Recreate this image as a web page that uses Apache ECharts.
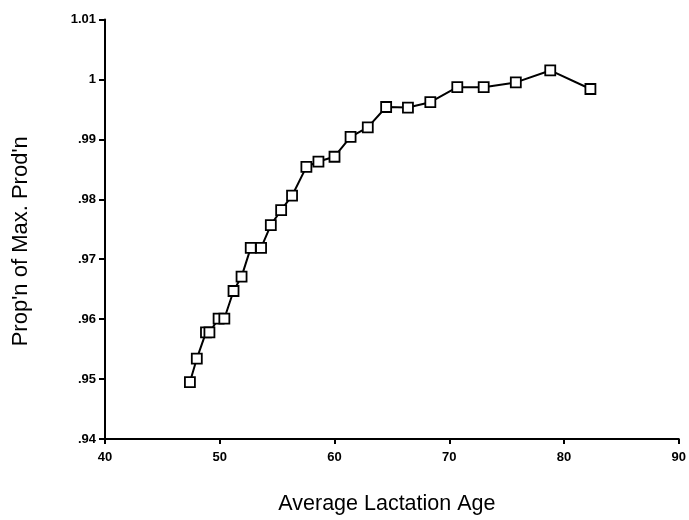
<!DOCTYPE html>
<html>
<head>
<meta charset="utf-8">
<script src="https://cdn.jsdelivr.net/npm/echarts@6/dist/echarts.min.js"></script>
<style>
    html, body { margin: 0; padding: 0; background: #fff; }
    #chart { width: 689px; height: 520px; }
</style>
</head>
<body>
<div id="chart"></div>
<script>
// average lactation age (x) and proportion of max production (y)
var ageValues = [47.4, 48.0, 48.8, 49.1, 49.9, 50.4, 51.2, 51.9, 52.7, 53.6,
    54.45, 55.35, 56.3, 57.55, 58.6, 60.0, 61.4, 62.9, 64.5, 66.4,
    68.35, 70.7, 73.0, 75.8, 78.8, 82.3];
var propValues = [.9495, .9534, .9578, .9578, .9601, .9601, .9647, .9671, .9719, .9719,
    .9757, .9782, .9806, .9854, .9863, .9871, .9904, .9920, .9954, .9953,
    .9962, .9987, .9987, .9995, 1.0015, .9984];

var xTicks = { min: 40, max: 90, step: 10 };
var yTicks = { min: 0.94, max: 1.01, step: 0.01 };

var points = [];
for (var i = 0; i < ageValues.length; i++) {
    points.push([ageValues[i], propValues[i]]);
}

var chart = echarts.init(document.getElementById('chart'));

var axisFont = {
    color: '#000',
    fontFamily: 'Liberation Sans, Arial, sans-serif',
    fontWeight: 'bold',
    fontSize: 13
};

chart.setOption({
    backgroundColor: '#fff',
    animation: false,
    grid: {
        left: 105,
        right: 7,
        top: 19.5,
        bottom: 78.5
    },
    xAxis: {
        type: 'value',
        min: xTicks.min,
        max: xTicks.max,
        interval: xTicks.step,
        name: 'Average Lactation Age',
        nameLocation: 'middle',
        nameGap: 54,
        nameTextStyle: {
            color: '#000',
            fontFamily: 'Liberation Sans, Arial, sans-serif',
            fontSize: 21.5,
            padding: [0, 10, 0, 0]
        },
        axisLine: { show: true, lineStyle: { color: '#000', width: 2 } },
        axisTick: { show: true, length: 5, lineStyle: { color: '#000', width: 2 } },
        axisLabel: Object.assign({ margin: 12 }, axisFont),
        splitLine: { show: false }
    },
    yAxis: {
        type: 'value',
        min: yTicks.min,
        max: yTicks.max,
        interval: yTicks.step,
        name: "Prop'n of Max. Prod'n",
        nameLocation: 'middle',
        nameGap: 73,
        nameTextStyle: {
            color: '#000',
            fontFamily: 'Liberation Sans, Arial, sans-serif',
            fontSize: 22,
            padding: [0, 24, 0, 0]
        },
        axisLine: { show: true, lineStyle: { color: '#000', width: 2 } },
        axisTick: { show: true, length: 6, lineStyle: { color: '#000', width: 2 } },
        axisLabel: Object.assign({
            margin: 9,
            formatter: function (v) {
                var s = String(Math.round(v * 100) / 100);
                return s.replace(/^0\./, '.');
            }
        }, axisFont),
        splitLine: { show: false }
    },
    series: [{
        type: 'line',
        data: points,
        symbol: 'rect',
        symbolSize: 10,
        lineStyle: { color: '#000', width: 2 },
        itemStyle: { color: '#fff', borderColor: '#000', borderWidth: 1.8 }
    }]
});
</script>
</body>
</html>
